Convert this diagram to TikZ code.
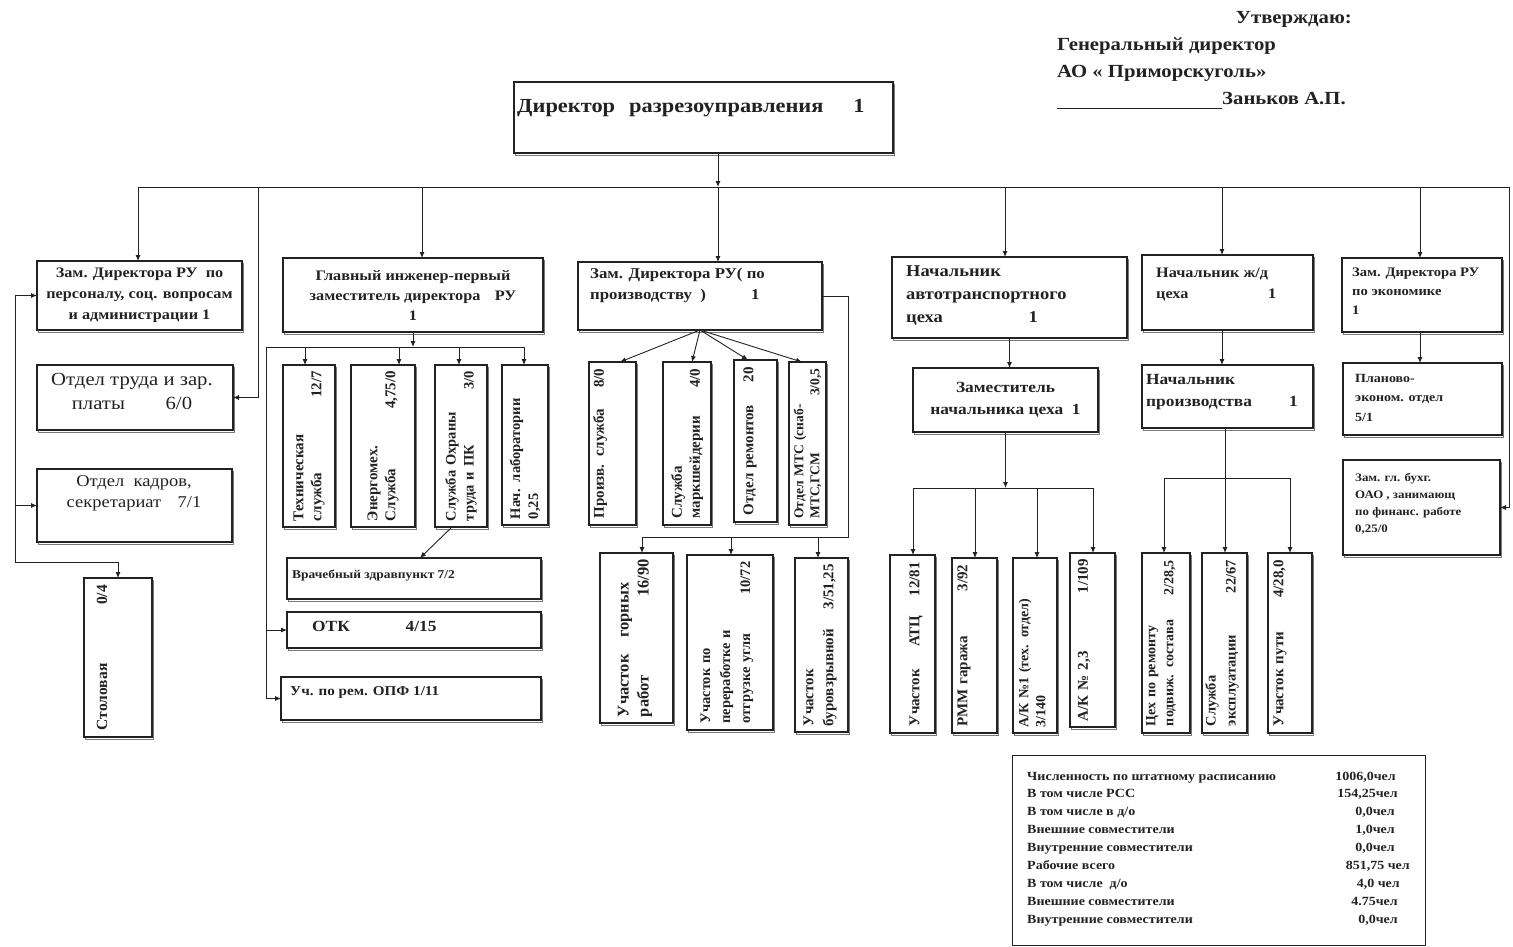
\documentclass[tikz,border=0pt]{standalone}
\usepackage{fontspec}
\setmainfont{Liberation Serif}[FakeStretch=1.12]
\newfontfamily\vfont{Liberation Serif}
\usetikzlibrary{arrows.meta,shadows,calc}
\definecolor{ink}{HTML}{222222}
\newcommand\fs[2]{\fontsize{#1}{#2}\selectfont}
\newcommand\mkbox[5]{\node[box, minimum width={(#4-#2)*1pt}, minimum height={(#5-#3)*1pt}] (#1) at ({(#2+#4)/2},{-(#3+#5)/2}) {};}
\newcommand\statline[4]{%
  \node[txt,anchor=base west,font=\bfseries\fs{12.5}{15}] (sl#1) at (1027,{-780-17.9*#1}) {#2};
  \node[txt,anchor=base east,font=\bfseries\fs{12.5}{15}] (sv#1) at (#4,{-780-17.9*#1}) {#3};}
\tikzset{
  box/.style={draw=ink, line width=1.4pt, fill=white, inner sep=0pt, outer sep=0pt,
    copy shadow={shadow xshift=1.2pt, shadow yshift=-2.4pt, draw=ink!60, line width=0.8pt}},
  ln/.style={draw=ink, line width=0.9pt},
  arr/.style={ln, -{Latex[length=6pt,width=5pt]}},
  txt/.style={text=ink, font=\bfseries, inner sep=0pt, align=left},
  ctxt/.style={text=ink, font=\bfseries, inner sep=0pt, align=center},
  vtxt/.style={text=ink, inner sep=0pt, align=left, rotate=90, anchor=center},
}
\begin{document}
\begin{tikzpicture}[x=1pt,y=1pt]
\useasboundingbox[fill=white] (0,0) rectangle (1513,-947);

% ---------- approval block ----------
\node[txt,anchor=base east,font=\bfseries\fs{18.5}{20}] (apr1) at (1352,-24) {Утверждаю:};
\node[txt,anchor=base west,font=\bfseries\fs{18.5}{20}] (apr2) at (1057,-51) {Генеральный директор};
\node[txt,anchor=base west,font=\bfseries\fs{18.5}{20}] (apr3) at (1057,-78) {АО « Приморскуголь»};
\node[txt,anchor=base west,font=\bfseries\fs{18.5}{20}] (apr4) at (1222,-105) {Заньков А.П.};
\coordinate (sigA) at (1057,-108);
\draw[ln] (sigA) -- (sigA -| apr4.base west);

% ---------- boxes ----------
\mkbox{dir}{514}{82}{893}{153}
\mkbox{zp}{37}{261}{242}{330}
\mkbox{otr}{37}{365}{233}{430}
\mkbox{ok}{37}{469}{232}{542}
\mkbox{stol}{84}{578}{152}{737}
\mkbox{gi}{283}{258}{543}{332}
\mkbox{ce1}{283}{365}{335}{527}
\mkbox{ce2}{351}{365}{415}{527}
\mkbox{ce3}{435}{365}{487}{527}
\mkbox{ce4}{502}{365}{548}{525}
\mkbox{vr}{287}{558}{541}{599}
\mkbox{otk}{287}{612}{541}{648}
\mkbox{uch}{281}{677}{541}{720}
\mkbox{pd}{578}{262}{822}{330}
\mkbox{pc1}{589}{362}{636}{525}
\mkbox{pc2}{663}{362}{711}{525}
\mkbox{pc3}{734}{360}{777}{522}
\mkbox{pc4}{789}{362}{826}{525}
\mkbox{pb1}{600}{553}{673}{723}
\mkbox{pb2}{687}{555}{773}{730}
\mkbox{pb3}{795}{558}{848}{732}
\mkbox{at}{892}{257}{1127}{338}
\mkbox{az}{913}{368}{1098}{432}
\mkbox{a1}{890}{555}{935}{733}
\mkbox{a2}{952}{558}{997}{733}
\mkbox{a3}{1013}{558}{1057}{733}
\mkbox{a4}{1070}{553}{1115}{727}
\mkbox{zd}{1142}{255}{1313}{330}
\mkbox{np}{1142}{365}{1313}{428}
\mkbox{r1}{1142}{553}{1190}{733}
\mkbox{r2}{1202}{553}{1247}{733}
\mkbox{r3}{1268}{553}{1312}{733}
\mkbox{ze}{1342}{258}{1502}{332}
\mkbox{pe}{1343}{363}{1502}{435}
\mkbox{zb}{1343}{460}{1500}{555}
\node[draw=ink, line width=1pt, inner sep=0pt, minimum width=413pt, minimum height=190pt] (st) at (1218.5,-850) {};

% ---------- horizontal texts ----------
\node[txt,anchor=base west,font=\bfseries\fs{20}{22}] (dirT) at (517,-113) {Директор\hspace{0.7em}разрезоуправления\hspace{1.5em}1};
\node[ctxt,font=\bfseries\fs{14.5}{21}] (zpT) at (zp.center) {Зам. Директора РУ\ \ по\\персоналу, соц. вопросам\\и администрации 1};
\node[ctxt,font=\fs{18.5}{24}] (otrT) at (132,-391) {Отдел труда и зар.\\платы\hspace{2.2em}6/0};
\node[ctxt,font=\fs{16.5}{21}] (okT) at (134,-493) {Отдел\ \ кадров,\\секретариат\hspace{1em}7/1};
\node[ctxt,font=\bfseries\fs{14.5}{20}] (giT) at (413,-296) {Главный инженер-первый\\заместитель директора\hspace{1em}РУ\\1};
\node[txt,anchor=west,font=\bfseries\fs{12}{14}] (vrT) at (292,-575) {Врачебный здравпункт 7/2};
\node[txt,anchor=west,font=\bfseries\fs{15.5}{18}] (otkT) at (312,-626) {ОТК\hspace{3.6em}4/15};
\node[txt,anchor=west,font=\bfseries\fs{13.5}{16}] (uchT) at (290,-692) {Уч. по рем. ОПФ 1/11};
\node[txt,anchor=north west,font=\bfseries\fs{15}{21}] (pdT) at (590,-268) {Зам. Директора РУ( по\\производству\ \ )\hspace{3em}1};
\node[txt,anchor=north west,font=\bfseries\fs{16.5}{23}] (atT) at (906,-265) {Начальник\\автотранспортного\\цеха\hspace{5.2em}1};
\node[ctxt,font=\bfseries\fs{15.5}{22}] (azT) at (az.center) {Заместитель\\начальника цеха\ \ 1};
\node[txt,anchor=north west,font=\bfseries\fs{14.5}{21}] (zdT) at (1156,-268) {Начальник ж/д\\цеха\hspace{5.5em}1};
\node[txt,anchor=north west,font=\bfseries\fs{15.5}{22}] (npT) at (1146,-374) {Начальник\\производства\hspace{2.4em}1};
\node[txt,anchor=north west,font=\bfseries\fs{13}{19}] (zeT) at (1352,-268) {Зам. Директора РУ\\по экономике\\1};
\node[txt,anchor=north west,font=\bfseries\fs{12.5}{19.5}] (peT) at (1355,-374) {Планово-\\эконом. отдел\\5/1};
\node[txt,anchor=north west,font=\bfseries\fs{11.5}{17}] (zbT) at (1355,-473) {Зам. гл. бухг.\\ОАО , занимающ\\по финанс. работе\\0,25/0};

% ---------- rotated texts ----------
\node[vtxt,text width=145pt,font=\vfont\bfseries\fs{15.5}{18}] (stolT) at (102,-657.5) {Столовая\hfill 0/4};
\node[vtxt,text width=150pt,font=\vfont\bfseries\fs{15}{18}] (ce1T) at (309,-446) {Техническая\\служба\hfill 12/7};
\node[vtxt,text width=150pt,font=\vfont\bfseries\fs{15}{18}] (ce2T) at (383,-446) {Энергомех.\\Служба\hfill 4,75/0};
\node[vtxt,text width=150pt,font=\vfont\bfseries\fs{14.5}{18}] (ce3T) at (461,-446) {Служба Охраны\\труда и ПК\hfill 3/0};
\node[vtxt,text width=148pt,font=\vfont\bfseries\fs{14.5}{18}] (ce4T) at (525,-445) {Нач. лаборатории\\0,25};
\node[vtxt,text width=150pt,font=\vfont\bfseries\fs{15}{18}] (pc1T) at (600,-443.5) {Произв. служба\hfill 8/0};
\node[vtxt,text width=150pt,font=\vfont\bfseries\fs{15}{18}] (pc2T) at (687,-443.5) {Служба\\маркшейдерии\hfill 4/0};
\node[vtxt,text width=148pt,font=\vfont\bfseries\fs{15}{18}] (pc3T) at (750,-441) {Отдел ремонтов\hfill 20};
\node[vtxt,text width=150pt,font=\vfont\bfseries\fs{13.5}{16}] (pc4T) at (807.5,-443.5) {Отдел МТС (снаб-\\МТС,ГСМ\hfill 3/0,5};
\node[vtxt,text width=158pt,font=\vfont\bfseries\fs{16.5}{20}] (pb1T) at (635,-638) {Участок\quad горных\\работ\hfill 16/90};
\node[vtxt,text width=162pt,font=\vfont\bfseries\fs{14.5}{20}] (pb2T) at (727,-642.5) {Участок по\\переработке и\\отгрузке угля\hfill 10/72};
\node[vtxt,text width=162pt,font=\vfont\bfseries\fs{15}{20}] (pb3T) at (820,-645) {Участок\\буровзрывной\hfill 3/51,25};
\node[vtxt,text width=164pt,font=\vfont\bfseries\fs{15}{18}] (a1T) at (916,-644) {Участок\hspace{1.5em}АТЦ\hfill 12/81};
\node[vtxt,text width=162pt,font=\vfont\bfseries\fs{15}{18}] (a2T) at (964,-645.5) {РММ гаража\hfill 3/92};
\node[vtxt,text width=164pt,font=\vfont\bfseries\fs{14}{17}] (a3T) at (1032,-645.5) {А/К №1 (тех. отдел)\\3/140};
\node[vtxt,text width=162pt,font=\vfont\bfseries\fs{15}{18}] (a4T) at (1084,-640) {А/К № 2,3\hfill 1/109};
\node[vtxt,text width=166pt,font=\vfont\bfseries\fs{14}{18}] (r1T) at (1161,-643) {Цех по ремонту\\подвиж. состава\hfill 2/28,5};
\node[vtxt,text width=166pt,font=\vfont\bfseries\fs{14.5}{20}] (r2T) at (1222,-643) {Служба\\эксплуатации\hfill 22/67};
\node[vtxt,text width=166pt,font=\vfont\bfseries\fs{15}{18}] (r3T) at (1280,-643) {Участок пути\hfill 4/28,0};

% ---------- statistics ----------
\statline{0}{Численность по штатному расписанию}{1006,0чел}{1396}
\statline{1}{В том числе РСС}{154,25чел}{1398}
\statline{2}{В том числе в д/о}{0,0чел}{1395}
\statline{3}{Внешние совместители}{1,0чел}{1395}
\statline{4}{Внутренние совместители}{0,0чел}{1395}
\statline{5}{Рабочие всего}{851,75 чел}{1410}
\statline{6}{В том числе\ \ д/о}{4,0 чел}{1400}
\statline{7}{Внешние совместители}{4.75чел}{1398}
\statline{8}{Внутренние совместители}{0,0чел}{1398}

% ---------- connectors: top level ----------
\coordinate (b138) at (138,-187);
\coordinate (b258) at (258,-187);
\coordinate (b422) at (422,-187);
\coordinate (b718) at (718,-187);
\coordinate (b1005) at (1005,-187);
\coordinate (b1222) at (1222,-187);
\coordinate (b1420) at (1420,-187);
\coordinate (b1509) at (1509,-187);
\draw[arr] (dir.south -| b718) -- (b718);
\draw[ln] (b138) -- (b1509);
\draw[arr] (b138) -- (b138 |- zp.north);
\draw[arr] (b258) |- (otr.east);
\draw[arr] (b422) -- (b422 |- gi.north);
\draw[arr] (b718) -- (b718 |- pd.north);
\draw[arr] (b1005) -- (b1005 |- at.north);
\draw[arr] (b1222) -- (b1222 |- zd.north);
\draw[arr] (b1420) -- (b1420 |- ze.north);
\draw[arr] (b1509) |- (zb.east);

% ---------- left branch ----------
\coordinate (lc) at (15,-562);
\draw[ln,{Latex[length=6pt,width=5pt]}-{Latex[length=6pt,width=5pt]}] (zp.west) -| (lc) -| (stol.north);
\draw[arr] (ok.west -| lc) -- (ok.west);

% ---------- chief engineer ----------
\coordinate (gb) at (413,-347);
\coordinate (gL) at (266,-347);
\coordinate (g1) at (305,-347);
\coordinate (g2) at (399,-347);
\coordinate (g3) at (459,-347);
\coordinate (g4) at (524,-347);
\draw[arr] (gi.south) -- (gb);
\draw[ln] (gL) -- (g4);
\draw[arr] (g1) -- (g1 |- ce1.north);
\draw[arr] (g2) -- (g2 |- ce2.north);
\draw[arr] (g3) -- (g3 |- ce3.north);
\draw[arr] (g4) -- (g4 |- ce4.north);
\draw[ln] (gL) -- (gL |- uch.west);
\draw[arr] (gL |- otk.west) -- (otk.west);
\draw[arr] (gL |- uch.west) -- (uch.west);
\draw[arr] ([xshift=-9pt]ce3.south) -- ([xshift=6pt]vr.north);

% ---------- production ----------
\draw[arr] (pd.south) -- ([xshift=7.5pt]pc1.north);
\draw[arr] (pd.south) -- ([xshift=5pt]pc2.north);
\draw[arr] (pd.south) -- ([xshift=-7.5pt]pc3.north);
\draw[arr] (pd.south) -- ([xshift=-5.5pt]pc4.north);
\coordinate (pR) at (848,-537);
\coordinate (pL) at (642,-537);
\coordinate (pM) at (731,-537);
\coordinate (pN) at (818,-537);
\draw[ln] (pd.east) -| (pR) -- (pL);
\draw[arr] (pL) -- (pL |- pb1.north);
\draw[arr] (pM) -- (pM |- pb2.north);
\draw[arr] (pN) -- (pN |- pb3.north);

% ---------- autotransport ----------
\draw[arr] (at.south) -- (at.south |- az.north);
\coordinate (ab) at (1005.5,-488);
\coordinate (aL) at (913,-488);
\coordinate (aB) at (975,-488);
\coordinate (aC) at (1037,-488);
\coordinate (aR) at (1093,-488);
\draw[arr] (az.south) -- (ab);
\draw[ln] (aL) -- (aR);
\draw[arr] (aL) -- (aL |- a1.north);
\draw[arr] (aB) -- (aB |- a2.north);
\draw[arr] (aC) -- (aC |- a3.north);
\draw[arr] (aR) -- (aR |- a4.north);

% ---------- railway ----------
\draw[arr] (zd.south -| b1222) -- (b1222 |- np.north);
\coordinate (rb) at (1225,-478);
\coordinate (rL) at (1164,-478);
\coordinate (rR) at (1290,-478);
\draw[ln] (np.south -| rb) -- (rb);
\draw[ln] (rL) -- (rR);
\draw[arr] (rL) -- (rL |- r1.north);
\draw[arr] (rb) -- (rb |- r2.north);
\draw[arr] (rR) -- (rR |- r3.north);

% ---------- economics ----------
\draw[arr] (ze.south -| b1420) -- (b1420 |- pe.north);
\end{tikzpicture}
\end{document}
